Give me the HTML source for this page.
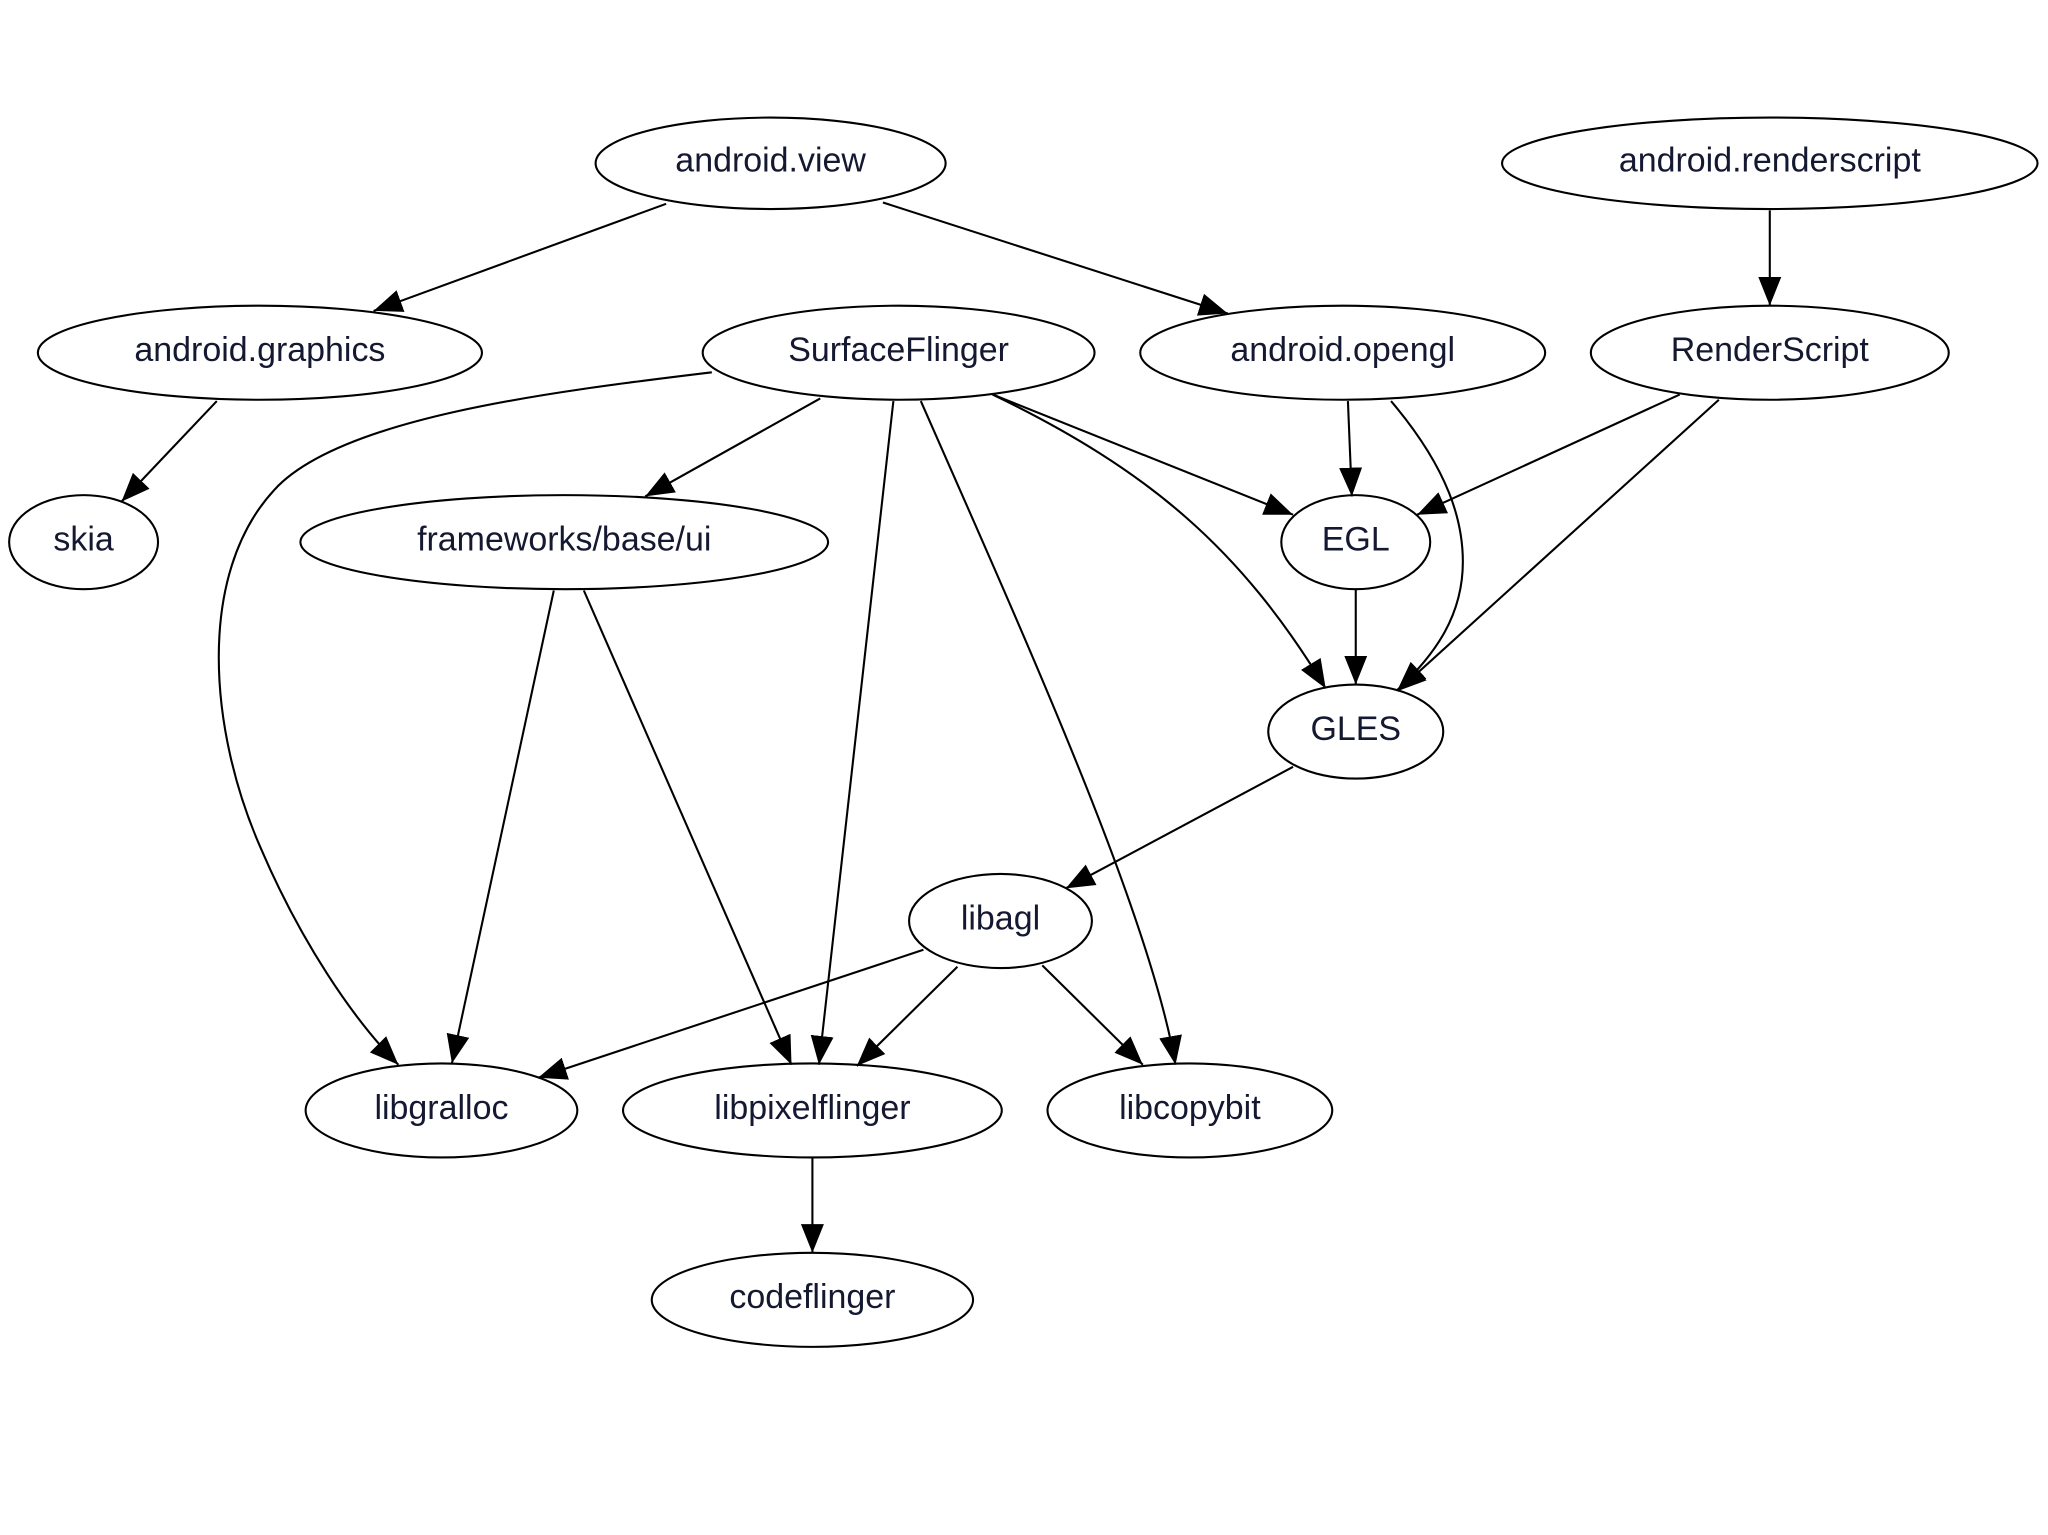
<!DOCTYPE html>
<html><head><meta charset="utf-8"><style>
html,body{margin:0;padding:0;background:#fff;}
svg{display:block;}
text{font-family:"Liberation Sans",sans-serif;font-size:26px;fill:#141830;text-anchor:middle;dominant-baseline:central;}
ellipse{fill:none;stroke:#000;stroke-width:1.6;}
path{fill:none;stroke:#000;stroke-width:1.6;}
</style></head><body>
<svg width="2048" height="1535" viewBox="0 0 1568 1175" preserveAspectRatio="none" xmlns="http://www.w3.org/2000/svg">
<defs><marker id="a" viewBox="0 0 10 10" refX="10" refY="5" markerWidth="9" markerHeight="9" markerUnits="userSpaceOnUse" orient="auto"><path d="M0,0 L10,5 L0,10 z" style="fill:#000;stroke:#000;stroke-width:1"/></marker>
<marker id="b" viewBox="0 0 10 8" refX="10" refY="4" markerWidth="22" markerHeight="18" markerUnits="userSpaceOnUse" orient="auto"><path d="M0,0 L10,4 L0,8 z" style="fill:#000;stroke:none"/></marker></defs>
<g>
<ellipse cx="590" cy="125" rx="134" ry="35"/><text x="590" y="123">android.view</text>
<ellipse cx="1355" cy="125" rx="205" ry="35"/><text x="1355" y="123">android.renderscript</text>
<ellipse cx="199" cy="270" rx="170" ry="36"/><text x="199" y="268">android.graphics</text>
<ellipse cx="688" cy="270" rx="150" ry="36"/><text x="688" y="268">SurfaceFlinger</text>
<ellipse cx="1028" cy="270" rx="155" ry="36"/><text x="1028" y="268">android.opengl</text>
<ellipse cx="1355" cy="270" rx="137" ry="36"/><text x="1355" y="268">RenderScript</text>
<ellipse cx="64" cy="415" rx="57" ry="36"/><text x="64" y="413">skia</text>
<ellipse cx="432" cy="415" rx="202" ry="36"/><text x="432" y="413">frameworks/base/ui</text>
<ellipse cx="1038" cy="415" rx="57" ry="36"/><text x="1038" y="413">EGL</text>
<ellipse cx="1038" cy="560" rx="67" ry="36"/><text x="1038" y="558">GLES</text>
<ellipse cx="766" cy="705" rx="70" ry="36"/><text x="766" y="703">libagl</text>
<ellipse cx="338" cy="850" rx="104" ry="36"/><text x="338" y="848">libgralloc</text>
<ellipse cx="622" cy="850" rx="145" ry="36"/><text x="622" y="848">libpixelflinger</text>
<ellipse cx="911" cy="850" rx="109" ry="36"/><text x="911" y="848">libcopybit</text>
<ellipse cx="622" cy="995" rx="123" ry="36"/><text x="622" y="993">codeflinger</text>
</g>
<g>
<path marker-end="url(#b)" d="M510,156 L286,238"/>
<path marker-end="url(#b)" d="M676,155 L940,240"/>
<path marker-end="url(#b)" d="M1355,161 L1355,234"/>
<path marker-end="url(#b)" d="M166,307 L93,384"/>
<path marker-end="url(#b)" d="M628,305 L494,380"/>
<path marker-end="url(#b)" d="M545,285 C420,300 260,320 210,375 C150,440 160,560 200,650 C230,720 270,780 305,815"/>
<path marker-end="url(#b)" d="M684,307 L627,815"/>
<path marker-end="url(#b)" d="M705,307 C790,500 880,700 900,815"/>
<path marker-end="url(#b)" d="M760,302 L990,394"/>
<path marker-end="url(#b)" d="M760,302 C880,360 950,420 1015,527"/>
<path marker-end="url(#b)" d="M1032,307 L1035,380"/>
<path marker-end="url(#b)" d="M1065,307 C1110,360 1120,400 1120,430 C1120,470 1100,500 1070,528"/>
<path marker-end="url(#b)" d="M1286,302 L1085,394"/>
<path marker-end="url(#b)" d="M1316,306 L1070,529"/>
<path marker-end="url(#b)" d="M1038,451 L1038,524"/>
<path marker-end="url(#b)" d="M424,452 L346,814"/>
<path marker-end="url(#b)" d="M447,452 L606,815"/>
<path marker-end="url(#b)" d="M990,587 L816,680"/>
<path marker-end="url(#b)" d="M707,727 L412,825"/>
<path marker-end="url(#b)" d="M733,740 L656,816"/>
<path marker-end="url(#b)" d="M798,739 L875,815"/>
<path marker-end="url(#b)" d="M622,886 L622,959"/>
</g>
</svg>
</body></html>
